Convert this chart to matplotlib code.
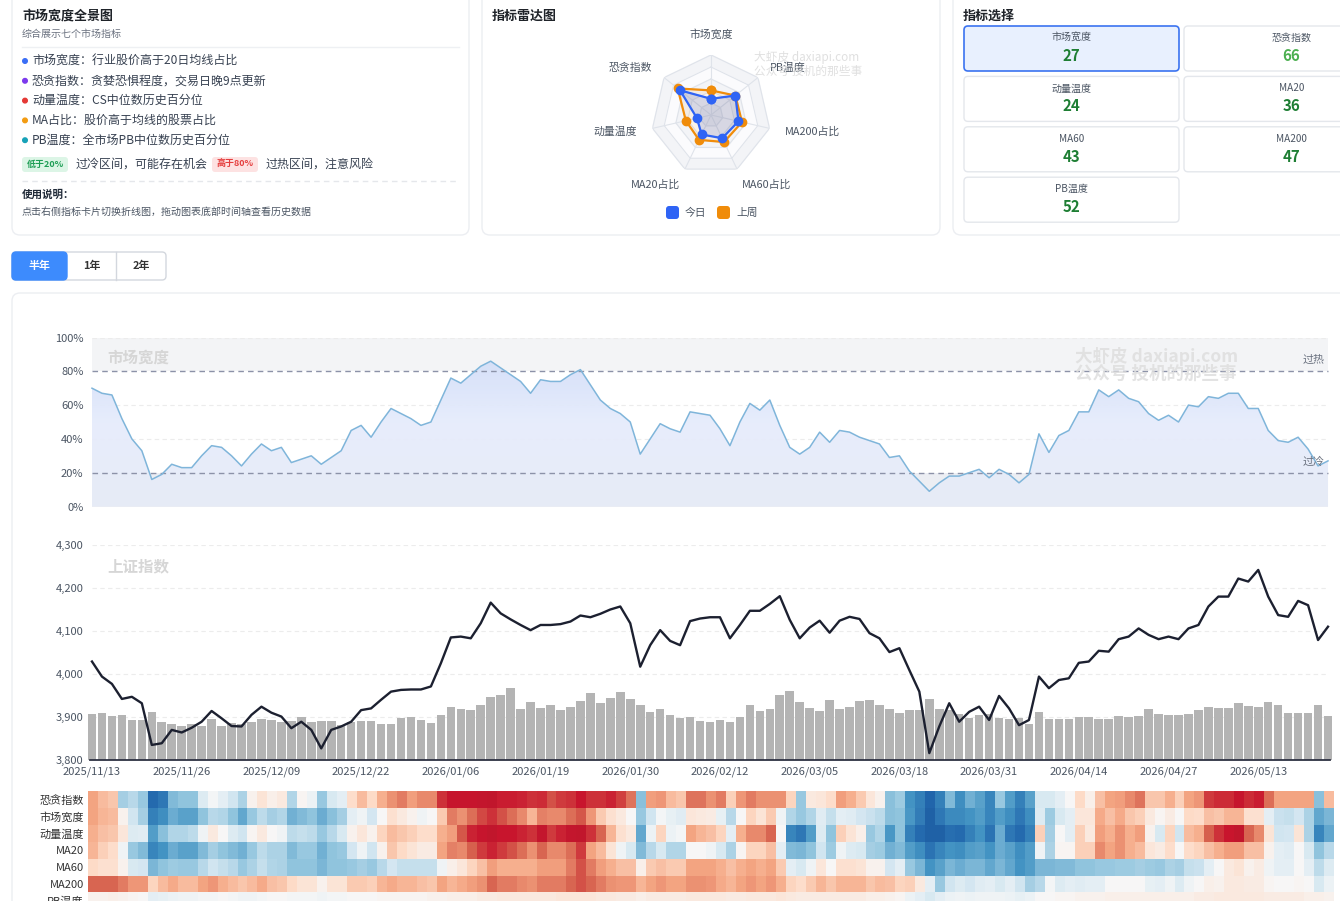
import numpy as np
import matplotlib
matplotlib.use("Agg")
import matplotlib.pyplot as plt
from matplotlib.patches import FancyBboxPatch, Circle
from matplotlib.colors import LinearSegmentedColormap

plt.rcParams["font.family"] = ["Noto Sans CJK SC", "DejaVu Sans"]

# ---------------- data ----------------
radar_axes = ["市场宽度", "PB温度", "MA200占比", "MA60占比", "MA20占比", "动量温度", "恐贪指数"]
radar_today = [27, 52, 47, 43, 36, 24, 66]
radar_last_week = [41, 52, 53, 50, 46, 43, 71]

card_names = ["市场宽度", "恐贪指数", "动量温度", "MA20", "MA60", "MA200", "PB温度"]
card_values = [27, 66, 24, 36, 43, 47, 52]

tick_labels = ["2025/11/13", "2025/11/26", "2025/12/09", "2025/12/22", "2026/01/06",
               "2026/01/19", "2026/01/30", "2026/02/12", "2026/03/05", "2026/03/18",
               "2026/03/31", "2026/04/14", "2026/04/27", "2026/05/13"]

breadth = [70, 67, 66, 52, 40, 33, 16, 19, 25, 23,
           23, 30, 36, 35, 30, 24, 31, 37, 33, 35,
           26, 28, 30, 25, 29, 33, 45, 48, 41, 50,
           58, 55, 52, 48, 50, 63, 76, 73, 78, 83,
           86, 82, 78, 74, 67, 75, 74, 74, 78, 81,
           72, 63, 58, 55, 50, 31, 40, 49, 46, 44,
           56, 55, 54, 46, 36, 50, 61, 57, 63, 48,
           35, 31, 35, 44, 38, 45, 44, 41, 39, 37,
           29, 30, 21, 15, 9, 14, 18, 18, 20, 22,
           17, 22, 19, 14, 19, 43, 32, 42, 45, 56,
           56, 69, 65, 69, 64, 62, 55, 51, 54, 50,
           60, 59, 65, 64, 67, 67, 58, 58, 45, 39,
           38, 41, 34, 24, 27]

sh_index = [4029, 3994, 3977, 3942, 3947, 3932, 3835, 3839, 3870, 3864,
            3875, 3889, 3914, 3897, 3879, 3878, 3905, 3924, 3910, 3901,
            3874, 3889, 3870, 3827, 3870, 3878, 3889, 3916, 3920, 3940,
            3959, 3963, 3964, 3964, 3971, 4025, 4085, 4087, 4083, 4118,
            4166, 4141, 4127, 4114, 4102, 4114, 4114, 4116, 4122, 4136,
            4132, 4140, 4150, 4157, 4118, 4017, 4067, 4102, 4077, 4067,
            4123, 4129, 4132, 4132, 4083, 4114, 4147, 4147, 4163, 4181,
            4126, 4083, 4108, 4124, 4096, 4124, 4133, 4128, 4095, 4083,
            4051, 4060, 4009, 3959, 3816, 3878, 3932, 3889, 3912, 3924,
            3893, 3949, 3920, 3881, 3893, 3994, 3967, 3986, 3990, 4026,
            4029, 4054, 4052, 4081, 4087, 4106, 4091, 4081, 4087, 4081,
            4106, 4114, 4157, 4180, 4180, 4222, 4215, 4242, 4180, 4137,
            4133, 4170, 4160, 4079, 4110]

volume = [138, 141, 133, 134, 120, 120, 143, 114, 108, 103,
          107, 102, 122, 103, 110, 108, 113, 123, 119, 113,
          118, 129, 114, 116, 116, 105, 113, 118, 118, 108,
          107, 126, 128, 120, 112, 135, 159, 154, 150, 165,
          190, 196, 215, 153, 173, 156, 166, 150, 160, 177,
          200, 170, 186, 204, 182, 166, 144, 153, 135, 126,
          129, 118, 113, 119, 113, 128, 164, 147, 154, 195,
          207, 173, 156, 146, 180, 152, 160, 177, 179, 166,
          153, 141, 150, 150, 182, 154, 150, 138, 127, 134,
          137, 127, 123, 125, 108, 145, 123, 123, 123, 128,
          128, 124, 124, 133, 130, 132, 152, 138, 134, 136,
          139, 149, 158, 155, 157, 172, 163, 159, 173, 166,
          142, 140, 142, 165, 133]

fear = [70, 66, 64, 33, 36, 31, 11, 14, 28, 30,
        30, 43, 49, 45, 40, 34, 52, 57, 53, 55,
        35, 51, 47, 31, 42, 45, 59, 66, 60, 68,
        73, 76, 71, 74, 74, 86, 91, 91, 91, 92,
        93, 89, 89, 88, 86, 87, 82, 85, 86, 90,
        86, 86, 88, 84, 77, 29, 71, 72, 66, 64,
        77, 77, 73, 76, 62, 72, 76, 73, 73, 73,
        61, 31, 55, 56, 59, 71, 68, 63, 56, 52,
        29, 32, 20, 16, 10, 16, 28, 19, 26, 23,
        17, 31, 22, 16, 23, 42, 42, 45, 50, 60,
        53, 65, 70, 71, 74, 77, 64, 64, 68, 62,
        70, 72, 85, 87, 87, 91, 87, 89, 78, 70,
        70, 70, 70, 29, 66]

momentum = [68, 65, 64, 56, 43, 44, 22, 29, 35, 35,
            37, 48, 55, 50, 43, 40, 51, 55, 50, 48,
            37, 38, 37, 31, 36, 42, 52, 56, 52, 61,
            66, 64, 62, 59, 59, 68, 71, 81, 88, 91,
            93, 90, 90, 88, 86, 92, 85, 88, 92, 93,
            86, 79, 67, 58, 55, 24, 47, 61, 47, 49,
            70, 67, 65, 61, 45, 68, 74, 74, 79, 50,
            17, 14, 22, 43, 30, 62, 57, 53, 31, 35,
            21, 30, 16, 11, 9, 9, 12, 11, 16, 20,
            13, 25, 14, 11, 16, 62, 33, 50, 45, 62,
            55, 71, 68, 73, 68, 71, 52, 42, 61, 40,
            66, 68, 80, 86, 90, 93, 79, 74, 57, 40,
            41, 57, 34, 17, 24]

ma20 = [67, 62, 59, 48, 31, 28, 17, 20, 25, 23,
        23, 28, 33, 30, 28, 26, 31, 37, 34, 34,
        28, 31, 31, 26, 30, 31, 41, 48, 40, 52,
        64, 60, 57, 54, 54, 70, 75, 74, 80, 85,
        88, 85, 82, 78, 73, 79, 74, 74, 78, 85,
        70, 66, 57, 48, 42, 28, 36, 42, 35, 35,
        50, 50, 48, 42, 34, 51, 61, 61, 65, 45,
        28, 27, 30, 40, 32, 48, 43, 42, 33, 32,
        26, 28, 22, 19, 13, 17, 20, 19, 22, 23,
        20, 25, 23, 19, 22, 48, 34, 51, 51, 62,
        62, 74, 70, 73, 68, 66, 56, 54, 59, 50,
        59, 61, 65, 68, 71, 71, 65, 65, 52, 45,
        44, 50, 42, 30, 36]

ma60 = [60, 58, 58, 52, 42, 41, 27, 30, 32, 31,
        31, 36, 40, 38, 36, 31, 34, 38, 35, 34,
        30, 30, 30, 27, 30, 30, 31, 33, 31, 36,
        41, 38, 38, 38, 38, 48, 53, 56, 61, 65,
        71, 68, 68, 68, 68, 71, 71, 71, 76, 82,
        76, 71, 68, 65, 65, 53, 63, 65, 63, 63,
        70, 70, 70, 68, 65, 68, 70, 68, 70, 63,
        45, 42, 48, 56, 50, 58, 58, 57, 52, 52,
        41, 45, 31, 27, 20, 23, 27, 25, 27, 27,
        24, 27, 24, 20, 22, 27, 27, 28, 28, 30,
        30, 31, 31, 32, 32, 33, 32, 31, 34, 33,
        38, 39, 45, 50, 55, 57, 52, 54, 48, 45,
        45, 50, 45, 37, 43]

ma200 = [79, 79, 79, 76, 72, 72, 61, 66, 69, 66,
         66, 70, 72, 68, 66, 64, 66, 69, 65, 64,
         60, 57, 57, 52, 57, 57, 63, 63, 62, 67,
         69, 67, 67, 65, 64, 70, 67, 69, 71, 73,
         79, 76, 76, 74, 73, 76, 76, 76, 79, 82,
         79, 76, 73, 72, 72, 67, 70, 72, 70, 70,
         73, 73, 72, 69, 67, 70, 72, 70, 72, 68,
         61, 59, 63, 67, 64, 67, 67, 67, 64, 66,
         65, 61, 62, 55, 45, 31, 40, 43, 41, 44,
         45, 42, 45, 40, 33, 36, 49, 43, 45, 44,
         45, 45, 50, 50, 50, 50, 46, 45, 48, 43,
         48, 50, 53, 52, 55, 55, 54, 54, 51, 50,
         50, 51, 50, 42, 47]

pb_temp = [52, 52, 53, 52, 51, 50, 45, 46, 47, 48,
           48, 49, 49, 50, 49, 48, 48, 49, 50, 50,
           49, 49, 49, 48, 49, 49, 50, 50, 50, 51,
           51, 51, 51, 51, 52, 52, 53, 53, 53, 54,
           54, 55, 55, 55, 55, 55, 55, 56, 56, 56,
           56, 55, 55, 54, 54, 53, 54, 54, 54, 54,
           55, 55, 55, 55, 54, 54, 55, 55, 55, 56,
           55, 54, 54, 54, 54, 54, 54, 54, 53, 53,
           52, 51, 47, 45, 42, 45, 47, 48, 47, 48,
           48, 48, 47, 46, 47, 50, 50, 51, 51, 52,
           52, 52, 53, 53, 53, 53, 53, 53, 53, 53,
           53, 54, 54, 55, 55, 55, 55, 55, 54, 54,
           54, 54, 53, 53, 52]

heat_rows = ["恐贪指数", "市场宽度", "动量温度", "MA20", "MA60", "MA200", "PB温度"]

# ---------------- figure ----------------
W, H = 1340, 901
fig = plt.figure(figsize=(W / 100, H / 100), dpi=100)
fig.patch.set_facecolor("white")

bg = fig.add_axes([0, 0, 1, 1], zorder=0)
bg.set_xlim(0, W)
bg.set_ylim(H, 0)
bg.axis("off")

top = fig.add_axes([0, 0, 1, 1], zorder=10)
top.set_xlim(0, W)
top.set_ylim(H, 0)
top.axis("off")
top.patch.set_visible(False)


def card(ax, x, y, w, h, fc="white", ec="#eceef2", r=8, lw=1.0):
    ax.add_patch(FancyBboxPatch((x, y), w, h, boxstyle=f"round,pad=0,rounding_size={r}",
                                fc=fc, ec=ec, lw=lw))


def txt(ax, x, y, s, px, color="#374151", weight="normal", ha="left", va="center", **kw):
    ax.text(x, y, s, fontsize=px * 0.72, color=color, fontweight=weight, ha=ha, va=va, **kw)


# panel 1: description
card(bg, 12, -8, 457, 243)
txt(bg, 22, 16, "市场宽度全景图", 13, "#1f2329", "bold")
txt(bg, 22, 34, "综合展示七个市场指标", 10, "#6b7280")
bg.plot([22, 459], [47, 47], color="#eef0f3", lw=1)

bullets = ["市场宽度：行业股价高于20日均线占比",
           "恐贪指数：贪婪恐惧程度，交易日晚9点更新",
           "动量温度：CS中位数历史百分位",
           "MA占比：股价高于均线的股票占比",
           "PB温度：全市场PB中位数历史百分位"]
bullet_colors = ["#3b6ef6", "#7c3aed", "#e53935", "#f39c12", "#17a2b8"]
for k, (s, c) in enumerate(zip(bullets, bullet_colors)):
    y = 61 + k * 19.8
    bg.add_patch(Circle((25, y), 2.3, color=c))
    txt(bg, 32, y, s, 12, "#374151")

bg.add_patch(FancyBboxPatch((22, 157), 46, 15, boxstyle="round,pad=0,rounding_size=3",
                            fc="#dcf5e6", ec="none"))
txt(bg, 45, 164.5, "低于20%", 9, "#1e9e55", "bold", ha="center")
txt(bg, 76, 164, "过冷区间，可能存在机会", 12, "#374151")
bg.add_patch(FancyBboxPatch((212, 157), 46, 15, boxstyle="round,pad=0,rounding_size=3",
                            fc="#fde2e2", ec="none"))
txt(bg, 235, 164.5, "高于80%", 9, "#e53e3e", "bold", ha="center")
txt(bg, 266, 164, "过热区间，注意风险", 12, "#374151")
bg.plot([22, 459], [181, 181], color="#e5e7eb", lw=1, ls=(0, (4, 3)))
txt(bg, 22, 195, "使用说明：", 10.5, "#1f2937", "bold")
txt(bg, 22, 212, "点击右侧指标卡片切换折线图，拖动图表底部时间轴查看历史数据", 10, "#4b5563")

# panel 2: radar
card(bg, 482, -8, 458, 243)
txt(bg, 492, 16, "指标雷达图", 13, "#1f2329", "bold")

rax = fig.add_axes([651 / W, 1 - 175 / H, 120 / W, 120 / H], projection="polar", zorder=2)
rax.set_theta_zero_location("N")
rax.set_theta_direction(-1)
rax.set_ylim(0, 100)
rax.set_xticks([])
rax.set_yticks([])
rax.grid(False)
rax.spines["polar"].set_visible(False)
rax.patch.set_visible(False)

ang = np.deg2rad(np.arange(len(radar_axes)) * 360 / len(radar_axes))
ang_c = np.append(ang, ang[0])
for k, lv in enumerate([100, 80, 60, 40, 20]):
    rax.fill(ang_c, [lv] * len(ang_c), color="#f3f4f7" if k % 2 == 0 else "#fbfbfd", zorder=0)
    rax.plot(ang_c, [lv] * len(ang_c), color="#dfe3ea", lw=0.8, zorder=0.5)
for a in ang:
    rax.plot([a, a], [0, 100], color="#dfe3ea", lw=0.8, zorder=0.5)

lw_vals = radar_last_week + radar_last_week[:1]
td_vals = radar_today + radar_today[:1]
rax.fill(ang_c, lw_vals, color="#f08c0a", alpha=0.08, zorder=1)
rax.plot(ang_c, lw_vals, color="#f08c0a", lw=1.6, marker="o", ms=6, zorder=2)
rax.fill(ang_c, td_vals, color="#3a5fc8", alpha=0.18, zorder=3)
rax.plot(ang_c, td_vals, color="#2f64f5", lw=1.6, marker="o", ms=6, zorder=4)

for a, lab in zip(ang, radar_axes):
    s, c = np.sin(a), np.cos(a)
    ha = "left" if s > 0.1 else ("right" if s < -0.1 else "center")
    va = "bottom" if c > 0.9 else ("top" if c < -0.5 else "center")
    r = 126 if va != "top" else 120
    rax.text(a, r, lab, ha=ha, va=va, fontsize=7.8, color="#4b5563", clip_on=False)

bg.add_patch(FancyBboxPatch((666, 206), 13, 13, boxstyle="round,pad=0,rounding_size=3",
                            fc="#2f64f5", ec="none"))
txt(bg, 685, 212.5, "今日", 10.8, "#4b5563")
bg.add_patch(FancyBboxPatch((717, 206), 13, 13, boxstyle="round,pad=0,rounding_size=3",
                            fc="#f08c0a", ec="none"))
txt(bg, 736, 212.5, "上周", 10.8, "#4b5563")
txt(top, 754, 58, "大虾皮 daxiapi.com", 11.7, "#d8d8d8", alpha=0.8)
txt(top, 754, 71, "公众号 投机的那些事", 11.7, "#d8d8d8", alpha=0.8)

# panel 3: indicator cards
card(bg, 953, -8, 420, 243)
txt(bg, 963, 16, "指标选择", 13, "#1f2329", "bold")
for k, (name, val) in enumerate(zip(card_names, card_values)):
    x0 = 964 + (k % 2) * 220
    y0 = 26 + (k // 2) * 50.4
    sel = k == 0
    card(bg, x0, y0, 215, 45, fc="#e8f0fe" if sel else "white",
         ec="#3b73f0" if sel else "#e4e7ec", r=4, lw=1.2 if sel else 1.0)
    txt(bg, x0 + 107.5, y0 + 12, name, 10, "#4b5563", ha="center")
    txt(bg, x0 + 107.5, y0 + 30, str(val), 15, "#4caf50" if val > 60 else "#1e7e34",
        "bold", ha="center")

# period buttons
bg.add_patch(FancyBboxPatch((12, 252), 154, 28, boxstyle="round,pad=0,rounding_size=4",
                            fc="white", ec="#d3d7de", lw=1))
bg.add_patch(FancyBboxPatch((12, 252), 55, 28, boxstyle="round,pad=0,rounding_size=4",
                            fc="#3d8bfd", ec="#3d8bfd", lw=1))
bg.plot([116, 116], [252, 280], color="#d3d7de", lw=1)
txt(bg, 39.5, 266, "半年", 11, "white", "bold", ha="center")
txt(bg, 91.5, 266, "1年", 11, "#333333", "bold", ha="center")
txt(bg, 141, 266, "2年", 11, "#333333", "bold", ha="center")

# chart card
card(bg, 12, 293, 1360, 640)

n = len(breadth)
xs = np.arange(n)
L, AW = 87 / W, 1246 / W
grid_c = "#ececec"
tick_c = "#4b5563"

# breadth chart
ax1 = fig.add_axes([L, 1 - 506.5 / H, AW, 169 / H], zorder=2)
ax1.patch.set_visible(False)
for sp in ax1.spines.values():
    sp.set_visible(False)
ax1.fill_between([0, n - 1], 80, 100, color="#f3f4f6", lw=0, zorder=0.3)
ax1.fill_between([0, n - 1], 0, 20, color="#eceef3", lw=0, zorder=0.3)
for v in [0, 40, 60, 100]:
    ax1.plot([0, n - 1], [v, v], color=grid_c, lw=0.8, ls=(0, (4, 3)), zorder=0.4)
poly = ax1.fill_between(xs, 0, breadth, color="none", lw=0)
grad = np.linspace(0, 1, 256).reshape(-1, 1)
gcm = LinearSegmentedColormap.from_list("bf", ["#e7ebf7", "#e6ecfc", "#cedaf7"])
im = ax1.imshow(grad, extent=(0, n - 1, 0, 100), origin="lower", aspect="auto",
                cmap=gcm, zorder=1, alpha=0.95)
im.set_clip_path(poly.get_paths()[0], transform=ax1.transData)
for v in [20, 80]:
    ax1.plot([0, n - 1], [v, v], color="#8c92a8", lw=1, ls=(0, (4, 3)), zorder=2)
ax1.plot(xs, breadth, color="#7fb5da", lw=1.1, zorder=3, solid_joinstyle="round")
ax1.set_xlim(-0.5, n - 0.5)
ax1.set_ylim(0, 100)
ax1.set_xticks([])
ax1.set_yticks([0, 20, 40, 60, 80, 100])
ax1.set_yticklabels([f"{v}%" for v in [0, 20, 40, 60, 80, 100]])
ax1.tick_params(axis="y", length=0, pad=2.5, labelsize=8, labelcolor=tick_c)
txt(top, 1325, 360, "过热", 11, "#6b7280", ha="right")
txt(top, 1325, 462, "过冷", 11, "#6b7280", ha="right")

# index chart
ax2 = fig.add_axes([L, 1 - 760 / H, AW, 215 / H], zorder=2)
ax2.patch.set_visible(False)
for sp in ax2.spines.values():
    sp.set_visible(False)
for v in [3900, 4000, 4100, 4200, 4300]:
    ax2.plot([0, n - 1], [v, v], color=grid_c, lw=0.8, ls=(0, (4, 3)))
ax2.set_xlim(-0.5, n - 0.5)
ax2.set_ylim(3800, 4300)
ax2.set_yticks([3800, 3900, 4000, 4100, 4200, 4300])
ax2.set_yticklabels([f"{v:,}" for v in [3800, 3900, 4000, 4100, 4200, 4300]])
ax2.set_xticks(np.arange(0, n, 9))
ax2.set_xticklabels(tick_labels)
ax2.tick_params(axis="y", length=0, pad=2.5, labelsize=8, labelcolor=tick_c)
ax2.tick_params(axis="x", length=0, pad=5, labelsize=8, labelcolor=tick_c)

axv = fig.add_axes([L, 1 - 760 / H, AW, 215 / H], zorder=3)
axv.patch.set_visible(False)
axv.axis("off")
axv.bar(xs, volume, width=0.86, color="#b4b4b4", lw=0)
axv.set_xlim(-0.5, n - 0.5)
axv.set_ylim(0, 645)
axv.plot(xs, sh_index, color="#1c2030", lw=1.7, transform=ax2.transData, zorder=3,
         solid_joinstyle="round")
axv.plot([-0.2, n - 0.8], [3800, 3800], color="#2d3142", lw=1.3,
         transform=ax2.transData, clip_on=False, zorder=4)

# heatmap
heat_cmap = LinearSegmentedColormap.from_list(
    "heat", ["#08306b", "#2166ac", "#4393c3", "#92c5de", "#d1e5f0", "#f7f7f7",
             "#fddbc7", "#f4a582", "#d6604d", "#c8152d", "#b2182b"])
heat = np.array([fear, breadth, momentum, ma20, ma60, ma200, pb_temp], dtype=float)
ax3 = fig.add_axes([88 / W, 1 - 909.3 / H, 1246 / W, 118.3 / H], zorder=2)
ax3.pcolormesh(np.arange(n + 1) - 0.5, np.arange(len(heat_rows) + 1), heat,
               cmap=heat_cmap, vmin=0, vmax=100)
ax3.set_xlim(-0.5, n - 0.5)
ax3.set_ylim(len(heat_rows), 0)
ax3.set_xticks([])
ax3.set_yticks(np.arange(len(heat_rows)) + 0.5)
ax3.set_yticklabels(heat_rows)
ax3.tick_params(axis="y", length=0, pad=3, labelsize=8, labelcolor="#333333")
for sp in ax3.spines.values():
    sp.set_visible(False)

# watermarks
txt(top, 107, 358, "市场宽度", 15.5, "#d6d6d6", "bold")
txt(top, 107, 566, "上证指数", 15.5, "#d6d6d6", "bold")
txt(top, 1075, 356, "大虾皮 daxiapi.com", 17.5, "#dedede", "bold", alpha=0.85)
txt(top, 1075, 374, "公众号 投机的那些事", 17.5, "#dedede", "bold", alpha=0.85)

fig.savefig("out.png", dpi=100)
